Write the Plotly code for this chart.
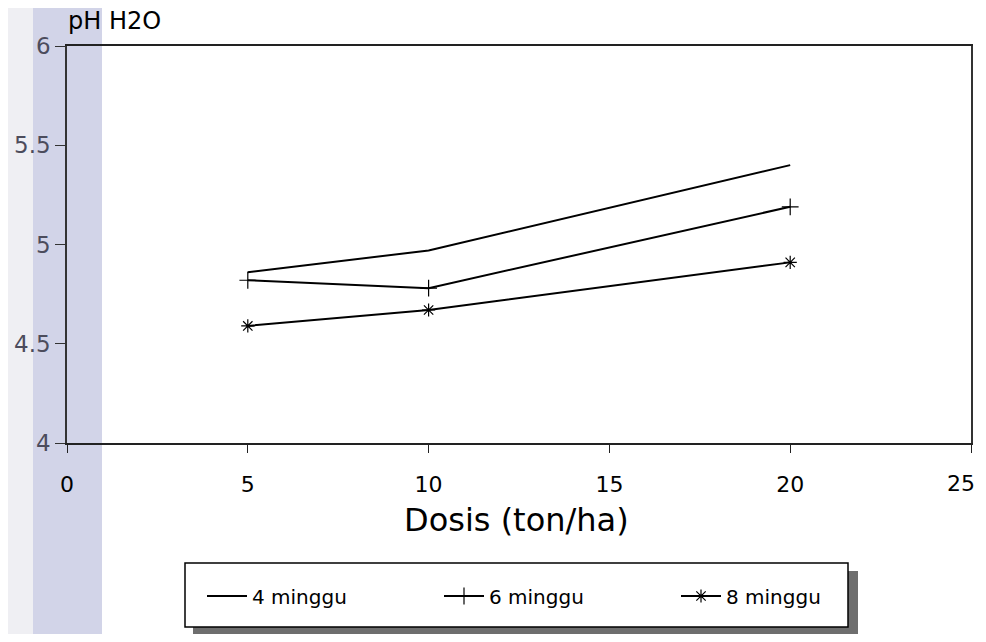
import plotly.graph_objects as go

dosis = [5, 10, 20]
series_names = ["4 minggu", "6 minggu", "8 minggu"]
ph_4 = [4.86, 4.97, 5.40]
ph_6 = [4.82, 4.78, 5.19]
ph_8 = [4.59, 4.67, 4.91]
x_ticks = [0, 5, 10, 15, 20, 25]
y_ticks = [4, 4.5, 5, 5.5, 6]
y_tick_text = ["4", "4.5", "5", "5.5", "6"]

# page body has an 8px margin: work in screen pixels and shift
OFF = 8
W, H = 986 - OFF, 642 - 2 * OFF
SL, SR, ST, SB = 67, 971, 46, 443  # plot area in screen pixels
L, T = SL - OFF, ST - OFF
R = W - (SR - OFF)
B = H - (SB - OFF)
pw = W - L - R
ph = H - T - B

def px_x(s):
    return (s - OFF - L) / pw

def px_y(s):
    return (H - B - (s - OFF)) / ph

FONT = "DejaVu Sans"

# last label drawn as a right-anchored annotation so it stays inside the page
x_tick_text = [str(v) for v in x_ticks]
last_label = x_tick_text[-1]
x_tick_text[-1] = ""

fig = go.Figure()
fig.add_trace(go.Scatter(x=dosis, y=ph_4, name=series_names[0], mode="lines",
                         line=dict(color="black", width=2)))
fig.add_trace(go.Scatter(x=dosis, y=ph_6, name=series_names[1], mode="lines+markers",
                         line=dict(color="black", width=2),
                         marker=dict(symbol="cross-thin-open", size=12,
                                     line=dict(color="black", width=1.2))))
fig.add_trace(go.Scatter(x=dosis, y=ph_8, name=series_names[2], mode="lines+markers",
                         line=dict(color="black", width=2),
                         marker=dict(symbol="asterisk-open", size=11,
                                     line=dict(color="black", width=1.2))))

shapes = [
    dict(type="rect", xref="paper", yref="paper", layer="below",
         x0=px_x(0), x1=px_x(33), y0=px_y(660), y1=px_y(0),
         fillcolor="#efeff3", line=dict(width=0)),
    dict(type="rect", xref="paper", yref="paper", layer="below",
         x0=px_x(33), x1=px_x(102), y0=px_y(660), y1=px_y(0),
         fillcolor="#d2d4e8", line=dict(width=0)),
    dict(type="rect", xref="paper", yref="paper", layer="above",
         x0=px_x(193), x1=px_x(858), y0=px_y(636), y1=px_y(571),
         fillcolor="#6e6e6e", line=dict(width=0)),
    dict(type="rect", xref="paper", yref="paper", layer="above",
         x0=px_x(185), x1=px_x(848), y0=px_y(627), y1=px_y(563),
         fillcolor="white", line=dict(color="black", width=1.5)),
]

annotations = [
    dict(text="pH H2O", xref="paper", yref="paper", x=px_x(66), y=px_y(21),
         xanchor="left", yanchor="middle", showarrow=False,
         font=dict(family=FONT, size=24, color="black")),
    dict(text="Dosis (ton/ha)", xref="paper", yref="paper", x=px_x(516), y=px_y(520),
         xanchor="center", yanchor="middle", showarrow=False,
         font=dict(family=FONT, size=32, color="black")),
    dict(text=last_label, xref="paper", yref="paper", x=px_x(977), y=px_y(484),
         xanchor="right", yanchor="middle", showarrow=False,
         font=dict(family=FONT, size=22, color="black")),
]

fig.update_layout(
    width=W, height=H,
    margin=dict(l=L, r=R, t=T, b=B, autoexpand=False),
    paper_bgcolor="white",
    plot_bgcolor="rgba(0,0,0,0)",
    shapes=shapes,
    annotations=annotations,
    showlegend=True,
    legend=dict(orientation="h", x=px_x(202), y=px_y(596), xanchor="left", yanchor="middle",
                bgcolor="rgba(0,0,0,0)", borderwidth=0,
                entrywidth=182, entrywidthmode="pixels",
                font=dict(family=FONT, size=20, color="black"),
                itemwidth=40),
    xaxis=dict(range=[0, 25], tickvals=x_ticks, ticktext=x_tick_text,
               showgrid=False, zeroline=False, showline=True, linecolor="#222",
               linewidth=1.5, mirror=True, ticks="outside", ticklen=8, tickcolor="#222",
               ticklabelstandoff=13, ticklabeloverflow="allow",
               tickfont=dict(family=FONT, size=22, color="black")),
    yaxis=dict(range=[4, 6], tickvals=y_ticks, ticktext=y_tick_text,
               showgrid=False, zeroline=False, showline=True, linecolor="#333",
               linewidth=1.5, mirror=True, ticks="outside", ticklen=10, tickcolor="#333",
               ticklabelstandoff=0,
               tickfont=dict(family=FONT, size=23, color="#4c4c5c")),
)

fig.write_html("out.html")
